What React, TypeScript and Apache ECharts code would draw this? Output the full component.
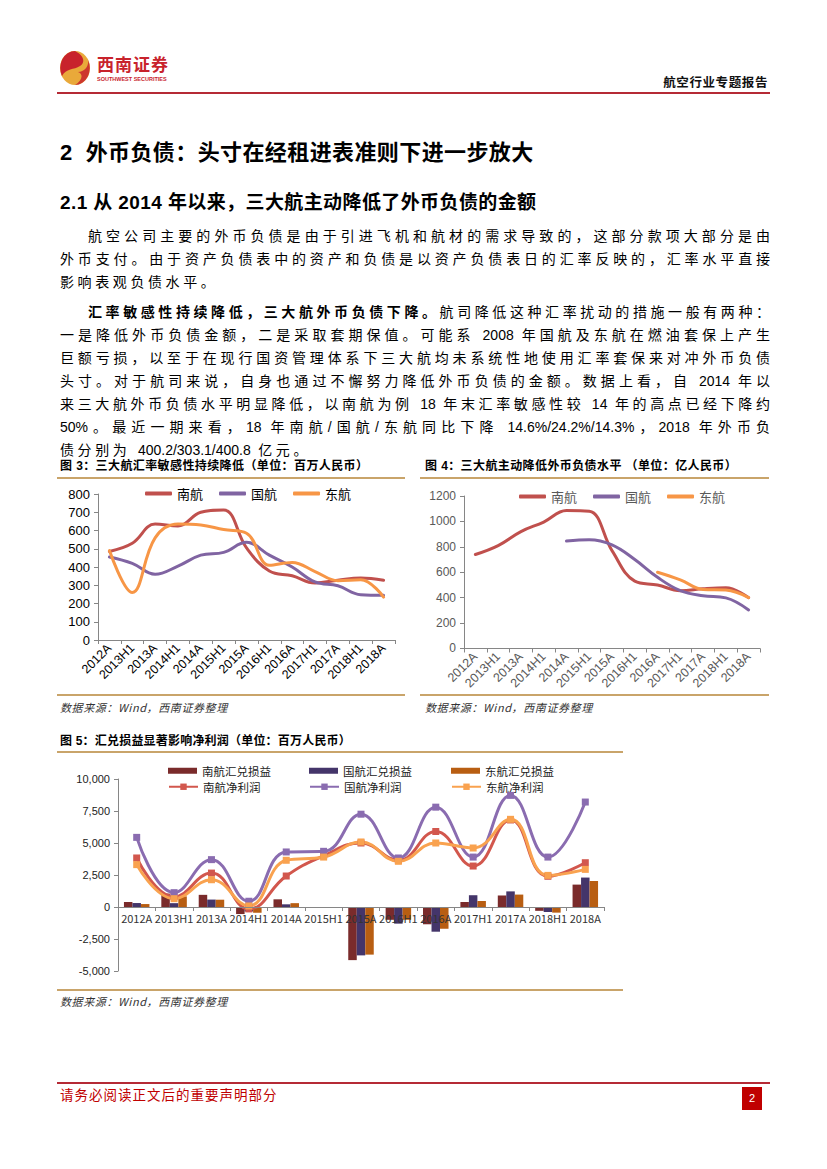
import React, { useEffect, useRef } from "react";
import * as echarts from "echarts";

const categories = ["2012A", "2013H1", "2013A", "2014H1", "2014A", "2015H1", "2015A", "2016H1", "2016A", "2017H1", "2017A", "2018H1", "2018A"];

// Fig 3: FX sensitivity (million RMB)
const sensSouth = [485, 530, 635, 625, 700, 712, 505, 378, 352, 312, 328, 340, 327];
const sensAir = [455, 420, 360, 405, 465, 480, 535, 465, 400, 318, 297, 248, 245];
const sensEast = [490, 260, 560, 635, 630, 605, 585, 410, 425, 375, 325, 330, 235];

// Fig 4: foreign currency liabilities (100 million RMB)
const debtSouth = [740, 810, 920, 995, 1085, 1080, 770, 530, 500, 455, 470, 478, 400.2];
const debtAir = [null, null, null, null, 845, 855, 815, 700, 560, 455, 415, 398, 303.1];
const debtEast = [null, null, null, null, null, null, null, null, 600, 540, 465, 460, 400.8];

// Fig 5: FX gains/losses and net profit (million RMB)
const fxSouth = [390, 1050, 950, -550, 600, -80, -4150, -1000, -1350, 390, 900, -300, 1750];
const fxAir = [310, 300, 580, -350, 210, -50, -3780, -1300, -1930, 920, 1220, -390, 2300];
const fxEast = [230, 830, 570, -450, 300, -30, -3720, -1000, -1700, 470, 970, -440, 2030];
const netSouth = [3830, 800, 2650, -150, 2420, 4000, 5000, 3650, 5900, 3200, 6800, 2400, 3460];
const netAir = [5440, 1120, 3700, 450, 4300, 4350, 7250, 3830, 7800, 3900, 8720, 3900, 8200];
const netEast = [3310, 650, 2130, 80, 3650, 3900, 5080, 3570, 5000, 4610, 6850, 2470, 2940];

const sensTicks = [0, 800, 100];
const debtTicks = [0, 1200, 200];
const fxTicks = [-5000, 10000, 2500];

const LATIN = "'Liberation Sans', 'Noto Sans CJK SC', sans-serif";
const CJK = "'Noto Sans CJK SC', 'Liberation Sans', sans-serif";
const GOLD = "#C9A46A";
const RED = "#C0504D";
const PURPLE = "#8064A2";
const ORANGE = "#F79646";

function EChart({ option, style }: { option: any; style: React.CSSProperties }) {
  const ref = useRef<HTMLDivElement>(null);
  useEffect(() => {
    const chart = echarts.init(ref.current!, undefined, { renderer: "svg" });
    chart.setOption(option);
    return () => chart.dispose();
  }, []);
  return <div ref={ref} style={style} />;
}

function lineChartOption(opts: {
  min: number; max: number; interval: number; labelColor: string;
  grid: any; legendLeft: number; legendTop: number; series: { name: string; data: (number | null)[]; color: string }[];
  labelSize: number;
}) {
  return {
    animation: false,
    grid: opts.grid,
    legend: {
      left: opts.legendLeft,
      top: opts.legendTop,
      icon: "roundRect",
      itemWidth: 27,
      itemHeight: 4,
      itemGap: 16,
      textStyle: { fontFamily: CJK, fontSize: 13, color: opts.labelColor },
      data: opts.series.map((s) => s.name),
    },
    xAxis: {
      type: "category",
      data: categories,
      boundaryGap: true,
      axisLine: { lineStyle: { color: "#868686", width: 1 } },
      axisTick: { show: true, lineStyle: { color: "#868686" }, length: 4 },
      axisLabel: { rotate: 45, fontFamily: LATIN, fontSize: 12.5, color: opts.labelColor, margin: 6, interval: 0 },
    },
    yAxis: {
      type: "value",
      min: opts.min,
      max: opts.max,
      interval: opts.interval,
      axisLine: { show: true, lineStyle: { color: "#868686", width: 1 } },
      axisTick: { show: true, lineStyle: { color: "#868686" }, length: 4 },
      splitLine: { show: false },
      axisLabel: { fontFamily: LATIN, fontSize: opts.labelSize, color: opts.labelColor, margin: 8, formatter: (v: number) => String(v) },
    },
    series: opts.series.map((s) => ({
      name: s.name,
      type: "line",
      data: s.data,
      smooth: 0.4,
      symbol: "none",
      connectNulls: false,
      lineStyle: { width: 3, color: s.color, cap: "round" },
      itemStyle: { color: s.color },
    })),
  };
}

const fig3Option = lineChartOption({
  min: sensTicks[0], max: sensTicks[1], interval: sensTicks[2], labelColor: "#000000",
  grid: { left: 41, right: 17, top: 12, bottom: 52 },
  legendLeft: 83, legendTop: 0, labelSize: 13,
  series: [
    { name: "南航", data: sensSouth, color: RED },
    { name: "国航", data: sensAir, color: PURPLE },
    { name: "东航", data: sensEast, color: ORANGE },
  ],
});

const fig4Option = lineChartOption({
  min: debtTicks[0], max: debtTicks[1], interval: debtTicks[2], labelColor: "#595959",
  grid: { left: 47, right: 12, top: 14, bottom: 41 },
  legendLeft: 97, legendTop: 3, labelSize: 12,
  series: [
    { name: "南航", data: debtSouth, color: RED },
    { name: "国航", data: debtAir, color: PURPLE },
    { name: "东航", data: debtEast, color: ORANGE },
  ],
});

const barColors = ["#7A2B2B", "#44356A", "#B85E12"];
const netColors = ["#D2574D", "#8A6CB0", "#F9A24F"];
const barNames = ["南航汇兑损益", "国航汇兑损益", "东航汇兑损益"];
const netNames = ["南航净利润", "国航净利润", "东航净利润"];
const legendX = [106, 247, 389];

const fig5GridTop = 23;
const fig5GridBottom = 15;
const fig5Height = 230;
// distance of the zero line above the bottom of the plot, derived from the axis range
const fig5ZeroOffset = ((fig5Height - fig5GridTop - fig5GridBottom) * (0 - fxTicks[0])) / (fxTicks[1] - fxTicks[0]);

const fig5Option = {
  animation: false,
  grid: { left: 61, right: 19, top: fig5GridTop, bottom: fig5GridBottom },
  legend: [
    ...barNames.map((n, i) => ({
      data: [n], left: legendX[i], top: 4, icon: "rect", itemWidth: 29, itemHeight: 6,
      textStyle: { fontFamily: CJK, fontSize: 11.5, color: "#222" },
    })),
    ...netNames.map((n, i) => ({
      data: [n], left: legendX[i], top: 20, itemWidth: 29, itemHeight: 8,
      textStyle: { fontFamily: CJK, fontSize: 11.5, color: "#222" },
    })),
  ],
  xAxis: {
    type: "category",
    data: categories,
    boundaryGap: true,
    offset: -fig5ZeroOffset,
    axisLine: { onZero: false, lineStyle: { color: "#868686" } },
    axisTick: { show: true, lineStyle: { color: "#868686" }, length: 4 },
    axisLabel: { fontFamily: CJK, fontSize: 11, color: "#333", margin: 5, interval: 0 },
    z: 10,
  },
  yAxis: {
    type: "value",
    min: fxTicks[0],
    max: fxTicks[1],
    interval: fxTicks[2],
    axisLine: { show: true, lineStyle: { color: "#868686" } },
    axisTick: { show: true, lineStyle: { color: "#868686" }, length: 4 },
    splitLine: { show: false },
    axisLabel: {
      fontFamily: LATIN, fontSize: 11, color: "#222", margin: 8,
      formatter: (v: number) => v.toLocaleString("en-US"),
    },
  },
  series: [
    ...[fxSouth, fxAir, fxEast].map((d, i) => ({
      name: barNames[i], type: "bar", data: d, barWidth: 8.5, barGap: "0%",
      itemStyle: { color: barColors[i] }, z: 2,
    })),
    ...[netSouth, netAir, netEast].map((d, i) => ({
      name: netNames[i], type: "line", data: d, smooth: 0.45, symbol: "rect", symbolSize: 7,
      lineStyle: { width: 3, color: netColors[i] }, itemStyle: { color: netColors[i] }, z: 5,
    })),
  ],
};

const abs = (left: number, top: number, extra: React.CSSProperties = {}): React.CSSProperties => ({
  position: "absolute", left, top, whiteSpace: "nowrap", ...extra,
});

const para1 = [
  "航空公司主要的外币负债是由于引进飞机和航材的需求导致的，这部分款项大部分是由",
  "外币支付。由于资产负债表中的资产和负债是以资产负债表日的汇率反映的，汇率水平直接",
  "影响表观负债水平。",
];
const para2 = [
  "一是降低外币负债金额，二是采取套期保值。可能系 2008 年国航及东航在燃油套保上产生",
  "巨额亏损，以至于在现行国资管理体系下三大航均未系统性地使用汇率套保来对冲外币负债",
  "头寸。对于航司来说，自身也通过不懈努力降低外币负债的金额。数据上看，自 2014 年以",
  "来三大航外币负债水平明显降低，以南航为例 18 年末汇率敏感性较 14 年的高点已经下降约",
  "50%。最近一期来看，18 年南航/国航/东航同比下降 14.6%/24.2%/14.3%，2018 年外币负",
];

function Line({ y, x = 60, w = 710, justify = true, children }: any) {
  return (
    <div
      style={{
        position: "absolute", left: x, top: y - 11, width: w, height: 22, lineHeight: "22px",
        fontSize: 14, fontFamily: LATIN, color: "#000", whiteSpace: "nowrap",
        textAlign: justify ? "justify" : "left", textAlignLast: justify ? "justify" : "left",
        letterSpacing: justify ? 0 : 3.6,
      } as React.CSSProperties}
    >
      {children}
    </div>
  );
}

function Logo() {
  return (
    <svg style={{ position: "absolute", left: 58, top: 48 }} width={36} height={40} viewBox="0 0 36 40">
      <ellipse cx="17" cy="20" rx="15" ry="17" fill="#E9A93A" />
      <path d="M17 3 A15 17 0 0 0 4 28 C8 20 16 22 22 18 C27 15 27 8 17 3 Z" fill="#C8232C" />
      <path d="M30 12 A15 17 0 0 1 17 37 C24 33 26 26 20 24 C27 24 31 18 30 12 Z" fill="#C8232C" opacity="0.85" />
    </svg>
  );
}

export default function App() {
  const gold = (left: number, top: number, width: number) => (
    <div style={{ position: "absolute", left, top, width, height: 2, background: GOLD }} />
  );
  const source = (left: number, top: number) => (
    <div style={abs(left, top, { fontSize: 11, fontStyle: "italic", fontFamily: CJK, color: "#333", letterSpacing: 0.6, lineHeight: "14px" })}>
      数据来源：Wind，西南证券整理
    </div>
  );
  return (
    <div style={{ position: "absolute", left: 0, top: 0, width: 827, height: 1169, background: "#fff", overflow: "hidden" }}>
      <Logo />
      <div style={abs(97, 54, { fontSize: 17, fontWeight: 700, color: "#C8232C", fontFamily: CJK, letterSpacing: 1, lineHeight: "20px" })}>西南证券</div>
      <div style={abs(97, 76, { fontSize: 5.5, fontWeight: 700, color: "#C8232C", fontFamily: LATIN, lineHeight: "7px" })}>SOUTHWEST SECURITIES</div>
      <div style={{ position: "absolute", right: 59, top: 73, whiteSpace: "nowrap", fontSize: 12.5, fontWeight: 700, color: "#111", fontFamily: CJK, letterSpacing: 0.6, lineHeight: "18px" }}>航空行业专题报告</div>
      <div style={{ position: "absolute", left: 57, top: 92, width: 713, height: 2, background: "#B52A35" }} />

      <div style={abs(60, 139, { fontSize: 22, fontWeight: 700, fontFamily: LATIN, color: "#000", lineHeight: "28px", letterSpacing: 0.4 })}>2&nbsp; 外币负债：头寸在经租进表准则下进一步放大</div>
      <div style={abs(60, 190, { fontSize: 19, fontWeight: 700, fontFamily: LATIN, color: "#000", lineHeight: "26px", letterSpacing: 0.4 })}>2.1 从 2014 年以来，三大航主动降低了外币负债的金额</div>

      <Line y={236} x={88} w={682}>{para1[0]}</Line>
      <Line y={259}>{para1[1]}</Line>
      <Line y={282} justify={false}>{para1[2]}</Line>

      <Line y={312} x={88} w={682}><b>汇率敏感性持续降低，三大航外币负债下降。</b>航司降低这种汇率扰动的措施一般有两种：</Line>
      {para2.map((t, i) => (
        <Line key={i} y={335 + i * 23}>{t}</Line>
      ))}
      <Line y={450} justify={false}>债分别为 <span style={{ letterSpacing: 0 }}>400.2/303.1/400.8</span> 亿元。</Line>

      <div style={abs(60, 458, { fontSize: 12, fontWeight: 700, fontFamily: LATIN, color: "#000", letterSpacing: 0.4, lineHeight: "16px" })}>图 3：三大航汇率敏感性持续降低（单位：百万人民币）</div>
      <div style={abs(425, 458, { fontSize: 12, fontWeight: 700, fontFamily: LATIN, color: "#000", letterSpacing: 0.4, lineHeight: "16px" })}>图 4：三大航主动降低外币负债水平 （单位：亿人民币）</div>
      {gold(57, 477, 348)}
      {gold(420, 477, 349)}
      <EChart option={fig3Option} style={{ position: "absolute", left: 57, top: 482, width: 355, height: 210 }} />
      <EChart option={fig4Option} style={{ position: "absolute", left: 417, top: 482, width: 355, height: 210 }} />
      {gold(57, 694, 348)}
      {gold(420, 694, 349)}
      {source(60, 700)}
      {source(425, 700)}

      <div style={abs(60, 733, { fontSize: 12, fontWeight: 700, fontFamily: LATIN, color: "#000", letterSpacing: 0.2, lineHeight: "16px" })}>图 5：汇兑损益显著影响净利润（单位：百万人民币）</div>
      {gold(57, 751, 566)}
      <EChart option={fig5Option} style={{ position: "absolute", left: 57, top: 756, width: 566, height: fig5Height }} />
      {gold(57, 989, 566)}
      {source(60, 994)}

      <div style={{ position: "absolute", left: 57, top: 1082, width: 713, height: 2, background: "#B52A35" }} />
      <div style={abs(60, 1085, { fontSize: 13.5, color: "#C00000", fontFamily: CJK, letterSpacing: 1, lineHeight: "18px" })}>请务必阅读正文后的重要声明部分</div>
      <div style={{ position: "absolute", left: 742, top: 1087, width: 20, height: 23, background: "#C00000", color: "#fff", fontSize: 11, fontFamily: LATIN, textAlign: "center", lineHeight: "23px" }}>2</div>
    </div>
  );
}
